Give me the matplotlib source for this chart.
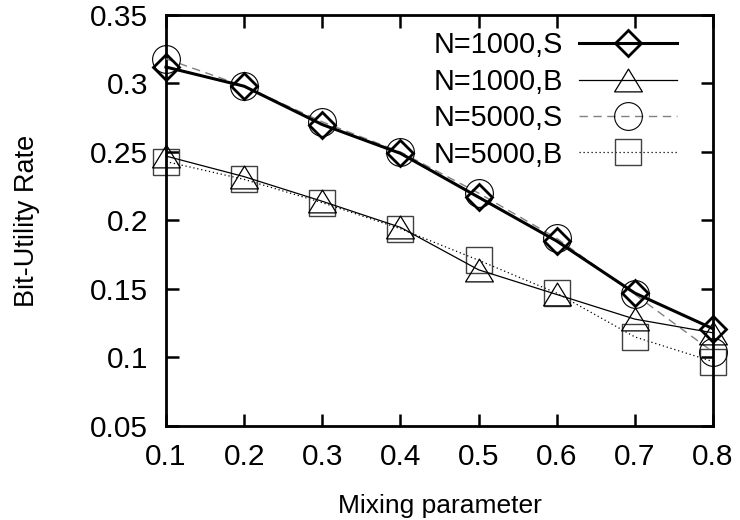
import matplotlib
matplotlib.use("Agg")
import matplotlib.pyplot as plt
from matplotlib.path import Path

plt.rcParams['font.family'] = ['Liberation Sans', 'DejaVu Sans']

mixing = [0.1, 0.2, 0.3, 0.4, 0.5, 0.6, 0.7, 0.8]
n1000_s = [0.312, 0.298, 0.270, 0.249, 0.217, 0.185, 0.147, 0.121]
n1000_b = [0.247, 0.232, 0.214, 0.195, 0.164, 0.146, 0.128, 0.118]
n5000_s = [0.318, 0.298, 0.272, 0.250, 0.220, 0.187, 0.146, 0.104]
n5000_b = [0.243, 0.230, 0.213, 0.194, 0.171, 0.147, 0.115, 0.097]

labels = ["N=1000,S", "N=1000,B", "N=5000,S", "N=5000,B"]
xticks = [0.1, 0.2, 0.3, 0.4, 0.5, 0.6, 0.7, 0.8]
yticks = [0.05, 0.1, 0.15, 0.2, 0.25, 0.3, 0.35]

fig = plt.figure(figsize=(7.4, 5.2), dpi=100)
ax = fig.add_axes([0.2243, 0.1808, 0.7392, 0.7904])

# wide, slightly flattened open triangle
tri = Path([(0, 0.82), (-1, -0.82), (1, -0.82), (0, 0.82)],
           [Path.MOVETO, Path.LINETO, Path.LINETO, Path.CLOSEPOLY])

ax.plot(mixing, n1000_s, color='black', lw=2.2, marker='D', ms=13.5,
        mfc='none', mec='black', mew=2.0, label=labels[0], zorder=5)
ax.plot(mixing, n1000_b, color='black', lw=0.9, marker=tri, ms=20,
        mfc='none', mec='black', mew=0.9, label=labels[1], zorder=4)
ax.plot(mixing, n5000_s, color='#808080', lw=1.0, ls=(0, (6, 4)),
        marker='o', ms=20, mfc='none', mec='black', mew=0.8,
        label=labels[2], zorder=3)
ax.plot(mixing, n5000_b, color='black', lw=0.9, ls=(0, (1, 2.2)),
        marker='s', ms=19, mfc='none', mec='#404040', mew=1.0,
        label=labels[3], zorder=2)

ax.set_xlim(0.1, 0.8)
ax.set_ylim(0.05, 0.35)
ax.set_xticks(xticks)
ax.set_yticks(yticks)
ax.set_xticklabels([f"{v:g}" for v in xticks])
ax.set_yticklabels([f"{v:g}" for v in yticks])

for s in ax.spines.values():
    s.set_linewidth(2.0)

ax.tick_params(direction='in', length=9, width=1.8, labelsize=21.5,
               top=True, right=True)
ax.tick_params(axis='x', pad=12)
ax.tick_params(axis='y', pad=13)

ax.set_xlabel("Mixing parameter", fontsize=19, labelpad=17)
ax.set_ylabel("Bit-Utility Rate", fontsize=19.5, labelpad=36)

for line in ax.get_lines():
    line.set_clip_on(False)

ax.legend(loc='upper right', bbox_to_anchor=(0.934, 0.960),
          frameon=False, markerfirst=False, fontsize=20.8,
          handlelength=3.4, handletextpad=0.55, labelspacing=0.29,
          borderpad=0, borderaxespad=0)

fig.savefig("out.png", dpi=100)
